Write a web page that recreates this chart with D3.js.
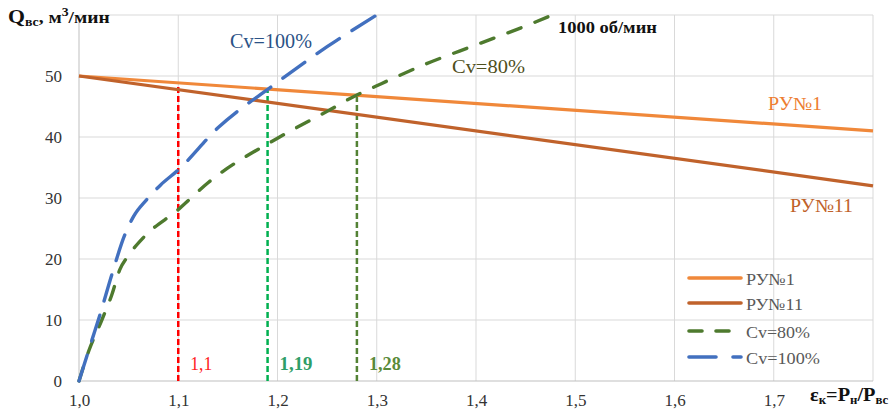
<!DOCTYPE html>
<html><head><meta charset="utf-8">
<script src="https://cdn.jsdelivr.net/npm/d3@7"></script>
<style>body{margin:0;background:#fff}svg{display:block}</style>
</head><body>
<svg id="c" width="894" height="412"></svg>
<script>
const xTicks = [1.0,1.1,1.2,1.3,1.4,1.5,1.6,1.7];
const xTickLabels = ["1,0","1,1","1,2","1,3","1,4","1,5","1,6","1,7"];
const yTicks = [0,10,20,30,40,50];
const ru1X = [1.0, 1.8];
const ru1Y = [50, 41];
const ru11X = [1.0, 1.8];
const ru11Y = [50, 32];
const cv80X = [1.0,1.01,1.023,1.033,1.041,1.05,1.066,1.1,1.13,1.2,1.25,1.28,1.3,1.35,1.4,1.45,1.477];
const cv80Y = [0,5,10,14.1,18.2,20.6,23.7,28.1,32.5,39.8,44.2,46.9,48.4,52,55.1,58.2,60];
const cv100X = [1.0,1.013,1.021,1.033,1.046,1.055,1.068,1.082,1.1,1.14,1.196,1.25,1.3];
const cv100Y = [0,6.7,10.8,17.4,23.9,27,29.7,32.1,34.6,41.5,48.5,54.8,60];
const markX = [1.1, 1.19, 1.28];
const markTop = [48.9, 47.9, 46.85];
const markLabels = ["1,1","1,19","1,28"];
const legNames = ["РУ№1","РУ№11","Cv=80%","Cv=100%"];

const SERIF = '"Liberation Serif","Times New Roman",serif';
const svg = d3.select("#c");
const x = d3.scaleLinear().domain([1.0,1.8]).range([79,873]);
const y = d3.scaleLinear().domain([0,60]).range([381,15]);

// stretch a text horizontally so that it spans exactly `w` pixels from x0
function fit(sel, x0, w){
  const bb = sel.node().getBBox();
  const k = w / bb.width;
  sel.attr("transform",`translate(${x0},0) scale(${k},1) translate(${-x0},0)`);
  return sel;
}
function txt(x0, y0, size, color, s, weight){
  return svg.append("text").attr("x",x0).attr("y",y0).attr("font-size",size)
    .attr("fill",color).attr("font-weight",weight||"normal").style("font-family",SERIF).text(s);
}

// grid
svg.append("g").selectAll("line").data([10,20,30,40,50,60]).join("line")
  .attr("x1",x(1.0)).attr("x2",x(1.8)).attr("y1",d=>y(d)).attr("y2",d=>y(d))
  .attr("stroke","#d9d9d9").attr("stroke-width",1);
svg.append("g").selectAll("line").data([1.1,1.2,1.3,1.4,1.5,1.6,1.7,1.8]).join("line")
  .attr("x1",d=>x(d)).attr("x2",d=>x(d)).attr("y1",y(0)).attr("y2",y(60))
  .attr("stroke","#d9d9d9").attr("stroke-width",1);

// axes
const xAxis = d3.axisBottom(x).tickValues(xTicks).tickSize(0).tickFormat((d,i)=>xTickLabels[i]);
const ax = svg.append("g").attr("transform",`translate(0,${y(0)})`).call(xAxis);
ax.select(".domain").attr("stroke","#bfbfbf").attr("d",`M${x(1.0)},0H${x(1.8)}`);
ax.selectAll("text").attr("font-size",17).attr("fill","#333").style("font-family",SERIF).attr("dy",0).attr("y",25);
const yAxis = d3.axisLeft(y).tickValues(yTicks).tickSize(0);
const ay = svg.append("g").attr("transform",`translate(${x(1.0)},0)`).call(yAxis);
ay.select(".domain").attr("stroke","#bfbfbf").attr("d",`M0,${y(0)}V${y(60)}`);
ay.selectAll("text").attr("font-size",17).attr("fill","#333").style("font-family",SERIF).attr("x",-17).attr("dy","0.35em");

// vertical markers
const mColors = ["#ff0000","#00b050","#548235"];
const lColors = ["#ff2020","#2f9e68","#5a8a3a"];
const mW = [22,33,32];
markX.forEach((m,i)=>{
  svg.append("line").attr("x1",x(m)).attr("x2",x(m)).attr("y1",y(0)).attr("y2",y(markTop[i]))
    .attr("stroke",mColors[i]).attr("stroke-width",2.5).attr("stroke-dasharray","6,3");
  const t = txt(x(m)+12, 370, 18, lColors[i], markLabels[i], i===0?"normal":"bold");
  fit(t, x(m)+12, mW[i]);
});

const line = d3.line().x(d=>x(d[0])).y(d=>y(d[1]));
const smooth = d3.line().x(d=>x(d[0])).y(d=>y(d[1])).curve(d3.curveMonotoneX);
const zip = (a,b)=>a.map((v,i)=>[v,b[i]]);

svg.append("path").attr("d",line(zip(ru1X,ru1Y))).attr("fill","none").attr("stroke","#F0883A").attr("stroke-width",3.2);
svg.append("path").attr("d",line(zip(ru11X,ru11Y))).attr("fill","none").attr("stroke","#C0622B").attr("stroke-width",3.2);
svg.append("path").attr("d",smooth(zip(cv80X,cv80Y))).attr("fill","none").attr("stroke","#4E7A2E").attr("stroke-width",3.4)
  .attr("stroke-dasharray","14,15").attr("stroke-linecap","round");
svg.append("path").attr("d",smooth(zip(cv100X,cv100Y))).attr("fill","none").attr("stroke","#4270BF").attr("stroke-width",3.4)
  .attr("stroke-dasharray","27,15").attr("stroke-linecap","round");

// annotations
fit(txt(230, 48, 20, "#2B5286", "Cv=100%"), 230, 82);
fit(txt(452, 73, 18, "#4F4F1C", "Cv=80%"), 452, 73);
fit(txt(558, 33, 16, "#111", "1000 об/мин", "bold"), 558, 99);
fit(txt(768, 110, 18, "#ED7D31", "РУ№1"), 768, 54);
fit(txt(790, 212, 18, "#C0622B", "РУ№11"), 790, 63);

// legend
const legColors = ["#F0883A","#C0622B","#4E7A2E","#4270BF"];
const legDash = [null,null,"13,14","27,17"];
const legY = [278,303,331,357];
const legW = [49,57,64,74];
legNames.forEach((n,i)=>{
  svg.append("line").attr("x1",689).attr("x2",741).attr("y1",legY[i]).attr("y2",legY[i])
    .attr("stroke",legColors[i]).attr("stroke-width",3.6).attr("stroke-linecap","round")
    .attr("stroke-dasharray",legDash[i]);
  fit(txt(746, legY[i]+7, 17, "#595959", n), 746, legW[i]);
});

// axis titles
const t = svg.append("text").attr("x",8).attr("y",23).attr("font-weight","bold").attr("fill","#111").style("font-family",SERIF);
t.append("tspan").attr("font-size",19).text("Q");
t.append("tspan").attr("font-size",12).attr("dy",3).text("вс");
t.append("tspan").attr("font-size",17).attr("dy",-3).text(", м");
t.append("tspan").attr("font-size",12).attr("dy",-7).text("3");
t.append("tspan").attr("font-size",17).attr("dy",7).text("/мин");
fit(t, 8, 102);

const xt = svg.append("text").attr("x",810).attr("y",401).attr("font-weight","bold").attr("fill","#111").style("font-family",SERIF);
xt.append("tspan").attr("font-size",19).text("ε");
xt.append("tspan").attr("font-size",12).attr("dy",3).text("к");
xt.append("tspan").attr("font-size",19).attr("dy",-3).text("=P");
xt.append("tspan").attr("font-size",12).attr("dy",3).text("н");
xt.append("tspan").attr("font-size",19).attr("dy",-3).text("/P");
xt.append("tspan").attr("font-size",12).attr("dy",3).text("вс");
fit(xt, 810, 79);
</script>
</body></html>
